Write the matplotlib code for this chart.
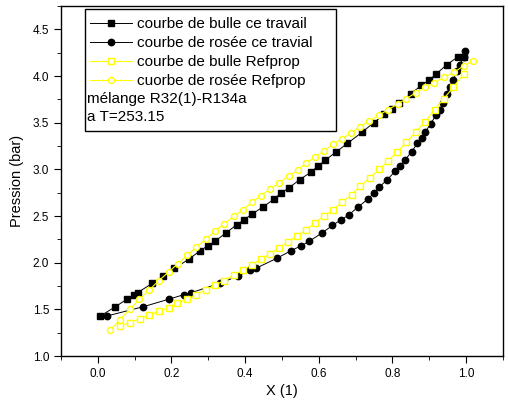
import matplotlib
matplotlib.use('Agg')
import matplotlib.pyplot as plt
from matplotlib.ticker import MultipleLocator
from matplotlib.patches import Rectangle

plt.rcParams.update({
    'font.family': 'sans-serif', 'font.sans-serif': ['Liberation Sans', 'DejaVu Sans'],
    'font.size': 10, 'axes.linewidth': 1.0,
    'xtick.direction': 'out', 'ytick.direction': 'out',
})

# bulle / rosee - ce travail (black)
x_bulle = [0.007, 0.048, 0.079, 0.098, 0.108, 0.148, 0.178, 0.208, 0.248, 0.278,
           0.298, 0.318, 0.348, 0.378, 0.397, 0.418, 0.449, 0.478, 0.498, 0.518,
           0.548, 0.578, 0.599, 0.618, 0.648, 0.678, 0.718, 0.749, 0.778, 0.798,
           0.818, 0.850, 0.878, 0.900, 0.918, 0.947, 0.979, 0.993]
p_bulle = [1.43, 1.53, 1.61, 1.66, 1.68, 1.78, 1.86, 1.94, 2.04, 2.13,
           2.18, 2.23, 2.32, 2.41, 2.46, 2.52, 2.60, 2.68, 2.75, 2.80,
           2.89, 2.97, 3.04, 3.10, 3.19, 3.28, 3.40, 3.50, 3.59, 3.65,
           3.71, 3.81, 3.90, 3.96, 4.02, 4.12, 4.21, 4.21]

x_rosee = [0.025, 0.124, 0.193, 0.235, 0.254, 0.331, 0.382, 0.413, 0.429, 0.487,
           0.525, 0.551, 0.574, 0.609, 0.637, 0.660, 0.681, 0.707, 0.733, 0.750,
           0.764, 0.786, 0.807, 0.821, 0.834, 0.852, 0.868, 0.880, 0.889, 0.904,
           0.918, 0.929, 0.937, 0.947, 0.955, 0.965, 0.975, 0.983, 0.993, 0.997]
p_rosee = [1.43, 1.53, 1.61, 1.66, 1.68, 1.78, 1.86, 1.92, 1.94, 2.05,
           2.13, 2.18, 2.23, 2.32, 2.40, 2.46, 2.51, 2.60, 2.68, 2.75,
           2.81, 2.89, 2.98, 3.04, 3.10, 3.19, 3.28, 3.34, 3.40, 3.49,
           3.58, 3.64, 3.71, 3.81, 3.88, 3.96, 4.05, 4.12, 4.21, 4.27]

# Refprop (yellow)
x_ref_bulle = [0.061, 0.087, 0.114, 0.140, 0.166, 0.192, 0.216, 0.243, 0.267, 0.293,
               0.318, 0.344, 0.369, 0.393, 0.418, 0.443, 0.467, 0.491, 0.516, 0.541,
               0.565, 0.590, 0.614, 0.639, 0.663, 0.689, 0.713, 0.738, 0.764, 0.788,
               0.813, 0.838, 0.863, 0.888, 0.915, 0.940, 0.965, 0.993]
p_ref_bulle = [1.32, 1.36, 1.40, 1.44, 1.48, 1.52, 1.57, 1.61, 1.66, 1.71,
               1.76, 1.81, 1.87, 1.92, 1.98, 2.04, 2.09, 2.16, 2.22, 2.29,
               2.35, 2.43, 2.50, 2.57, 2.65, 2.73, 2.82, 2.91, 3.00, 3.09,
               3.19, 3.29, 3.40, 3.51, 3.64, 3.76, 3.88, 4.02]

x_ref_rosee = [0.034, 0.060, 0.087, 0.113, 0.140, 0.166, 0.192, 0.217, 0.243, 0.268,
               0.293, 0.318, 0.344, 0.370, 0.395, 0.419, 0.443, 0.468, 0.493, 0.518,
               0.543, 0.565, 0.590, 0.614, 0.639, 0.663, 0.688, 0.713, 0.737, 0.763,
               0.788, 0.814, 0.838, 0.863, 0.889, 0.914, 0.941, 0.967, 0.993, 1.018]
p_ref_rosee = [1.28, 1.39, 1.50, 1.61, 1.71, 1.81, 1.90, 1.99, 2.08, 2.17,
               2.25, 2.34, 2.42, 2.50, 2.57, 2.65, 2.72, 2.79, 2.86, 2.93,
               2.99, 3.07, 3.13, 3.20, 3.27, 3.33, 3.39, 3.46, 3.52, 3.58,
               3.64, 3.70, 3.76, 3.82, 3.88, 3.93, 3.99, 4.04, 4.11, 4.16]

labels = ['courbe de bulle ce travail', 'courbe de rosée ce travial',
          'courbe de bulle Refprop', 'cuorbe de rosée Refprop']
note_lines = ['mélange R32(1)-R134a', 'a T=253.15']

fig = plt.figure(figsize=(5.08, 4.07), dpi=100)
ax = fig.add_axes([0.120, 0.125, 0.870, 0.860])

ax.plot(x_bulle, p_bulle, '-', color='black', lw=0.7, marker='s', ms=4.2, label=labels[0])
ax.plot(x_rosee, p_rosee, '-', color='black', lw=0.7, marker='o', ms=4.6, label=labels[1])
ax.plot(x_ref_bulle, p_ref_bulle, '-', color='#ffff00', lw=0.8, marker='s', ms=3.8,
        mfc='white', mec='#ffff00', mew=1.0, label=labels[2])
ax.plot(x_ref_rosee, p_ref_rosee, '-', color='#ffff00', lw=0.8, marker='o', ms=4.3,
        mfc='white', mec='#ffff00', mew=1.0, label=labels[3])

ax.set_xlim(-0.1, 1.1)
ax.set_ylim(1.0, 4.75)
ax.xaxis.set_major_locator(MultipleLocator(0.2))
ax.xaxis.set_minor_locator(MultipleLocator(0.1))
ax.yaxis.set_major_locator(MultipleLocator(0.5))
ax.yaxis.set_minor_locator(MultipleLocator(0.25))
ax.tick_params(which='major', length=5, labelsize=8.5)
ax.tick_params(which='minor', length=3)
ax.set_xlabel('X (1)', fontsize=10.5, labelpad=3)
ax.set_ylabel('Pression (bar)', fontsize=10.5, labelpad=6)

# legend block: frame + entries + note
ax.add_patch(Rectangle((0.054, 0.643), 0.568, 0.348, transform=ax.transAxes,
                       fill=False, edgecolor='black', lw=1.0, zorder=5))
leg = ax.legend(loc='upper left', bbox_to_anchor=(0.066, 0.968), frameon=False,
                fontsize=11, handlelength=2.75, handletextpad=0.3, labelspacing=0.32,
                borderpad=0, borderaxespad=0)
for txt, yy in zip(note_lines, [0.734, 0.683]):
    ax.text(0.059, yy, txt, transform=ax.transAxes, fontsize=11, va='center')

fig.savefig('out.png', dpi=100)
